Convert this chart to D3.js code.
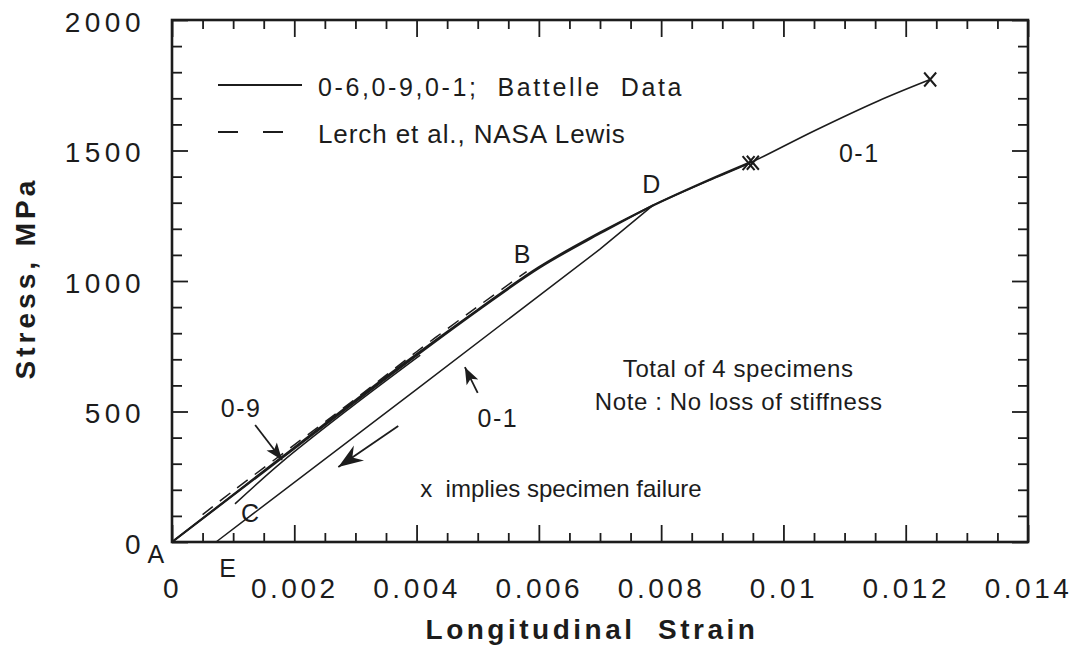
<!DOCTYPE html>
<html>
<head>
<meta charset="utf-8">
<script src="https://cdn.jsdelivr.net/npm/d3@7"></script>
<style>
  html, body { margin: 0; padding: 0; background: #fff; }
  svg { display: block; font-family: "Liberation Sans", Arial, Helvetica, sans-serif; }
</style>
</head>
<body>
<svg id="chart"></svg>
<script>
// axis ticks
const xTickValues = [0, 0.002, 0.004, 0.006, 0.008, 0.01, 0.012, 0.014];
const xTickLabels = ["0", "0.002", "0.004", "0.006", "0.008", "0.01", "0.012", "0.014"];
const yTickValues = [0, 500, 1000, 1500, 2000];
const yTickLabels = ["0", "500", "1000", "1500", "2000"];

// [strain, stress MPa]
const load01 = [[0, 0], [0.0018, 322], [0.00373, 667], [0.00504, 893], [0.00602, 1052],
  [0.0070, 1182], [0.00787, 1291]];
const unload01 = [[0.00787, 1291], [0.0070, 1122], [0.0040, 585], [0.00072, 0]];
const reload01 = [[0.00103, 146], [0.0018, 307], [0.00291, 513], [0.00406, 716]];
const final01 = [[0.00787, 1291], [0.00877, 1384], [0.00945, 1452], [0.0105, 1575],
  [0.01155, 1690], [0.0124, 1772]];
const load0609 = [[0, 0], [0.0018, 326], [0.0037, 668], [0.005, 890], [0.006, 1053],
  [0.007, 1186], [0.0079, 1293], [0.00877, 1386], [0.00945, 1454]];
const nasaLewis = [[0.0005, 105], [0.001, 196], [0.002, 372], [0.003, 548], [0.004, 729],
  [0.005, 902], [0.0058, 1036]];
const failures = [[0.00943, 1452], [0.00950, 1453], [0.0124, 1772]];

// annotation text, placed in data units
const pointLabels = [
  { text: "A", at: [-0.00025, -80] },
  { text: "E", at: [0.00092, -134] },
  { text: "C", at: [0.00129, 77] },
  { text: "B", at: [0.00574, 1069] },
  { text: "D", at: [0.00785, 1337] },
  { text: "0-1", at: [0.01124, 1456] },
  { text: "0-1", at: [0.00533, 441] },
  { text: "0-9", at: [0.00113, 479] }
];
const notes = [
  { text: "Total of 4 specimens", at: [0.00926, 632] },
  { text: "Note : No loss of stiffness", at: [0.00927, 506] }
];
const arrows = [
  { from: [0.00136, 448], to: [0.0018, 314], head: "small" },
  { from: [0.0050, 571], to: [0.00479, 670], head: "small" },
  { from: [0.0037, 444], to: [0.00272, 287], head: "big" }
];

const width = 1081;
const height = 655;
const ink = "#1c1c1c";

const svg = d3.select("#chart").attr("width", width).attr("height", height);

const x = d3.scaleLinear().domain([0, 0.014]).range([172, 1028]);
const y = d3.scaleLinear().domain([0, 2000]).range([542, 20]);

const minorX = d3.range(0, 29).map((i) => i * 0.0005).filter((v) => Math.round(v * 10000) % 20 !== 0);
const minorY = d3.range(0, 21).map((i) => i * 100).filter((v) => v % 500 !== 0);

const defs = svg.append("defs");
defs.append("marker")
  .attr("id", "head-small")
  .attr("markerUnits", "userSpaceOnUse")
  .attr("viewBox", "-18 -8 20 16")
  .attr("markerWidth", 20).attr("markerHeight", 16)
  .attr("refX", 0).attr("refY", 0)
  .attr("orient", "auto")
  .append("path").attr("d", "M0,0L-17,-6.5L-13,0L-17,6.5Z").attr("fill", ink);
defs.append("marker")
  .attr("id", "head-big")
  .attr("markerUnits", "userSpaceOnUse")
  .attr("viewBox", "-26 -10 28 20")
  .attr("markerWidth", 28).attr("markerHeight", 20)
  .attr("refX", 0).attr("refY", 0)
  .attr("orient", "auto")
  .append("path").attr("d", "M0,0L-25,-9L-17,0L-25,9Z").attr("fill", ink);

function styleAxis(g) {
  g.select(".domain").remove();
  g.selectAll(".tick line").attr("stroke", ink).attr("stroke-width", 1.8);
}

// bottom axis with labels
svg.append("g")
  .attr("transform", `translate(0,${y(0)})`)
  .call(d3.axisBottom(x).tickValues(xTickValues).tickFormat((d, i) => xTickLabels[i])
    .tickSize(-17).tickPadding(36))
  .call(styleAxis)
  .call((g) => g.selectAll("text")
    .attr("font-size", 28).attr("letter-spacing", 3.5).attr("fill", ink)
    .attr("font-family", "Liberation Sans, Arial, sans-serif"));
svg.append("g")
  .attr("transform", `translate(0,${y(0)})`)
  .call(d3.axisBottom(x).tickValues(minorX).tickFormat("").tickSize(-9))
  .call(styleAxis);

// top axis
svg.append("g")
  .attr("transform", `translate(0,${y(2000)})`)
  .call(d3.axisTop(x).tickValues(xTickValues).tickFormat("").tickSize(-17))
  .call(styleAxis);
svg.append("g")
  .attr("transform", `translate(0,${y(2000)})`)
  .call(d3.axisTop(x).tickValues(minorX).tickFormat("").tickSize(-9))
  .call(styleAxis);

// left axis with labels
svg.append("g")
  .attr("transform", `translate(${x(0)},0)`)
  .call(d3.axisLeft(y).tickValues(yTickValues).tickFormat((d, i) => yTickLabels[i])
    .tickSize(-16).tickPadding(27))
  .call(styleAxis)
  .call((g) => g.selectAll("text")
    .attr("font-size", 28).attr("letter-spacing", 4.5).attr("fill", ink)
    .attr("dy", "0.4em")
    .attr("font-family", "Liberation Sans, Arial, sans-serif"));
svg.append("g")
  .attr("transform", `translate(${x(0)},0)`)
  .call(d3.axisLeft(y).tickValues(minorY).tickFormat("").tickSize(-10))
  .call(styleAxis);

// right axis
svg.append("g")
  .attr("transform", `translate(${x(0.014)},0)`)
  .call(d3.axisRight(y).tickValues(yTickValues).tickFormat("").tickSize(-16))
  .call(styleAxis);
svg.append("g")
  .attr("transform", `translate(${x(0.014)},0)`)
  .call(d3.axisRight(y).tickValues(minorY).tickFormat("").tickSize(-10))
  .call(styleAxis);

// frame
svg.append("rect")
  .attr("x", x(0)).attr("y", y(2000))
  .attr("width", x(0.014) - x(0)).attr("height", y(0) - y(2000))
  .attr("fill", "none").attr("stroke", ink).attr("stroke-width", 2.6);

// curves
const line = d3.line().x((d) => x(d[0])).y((d) => y(d[1])).curve(d3.curveCatmullRom);
const straight = d3.line().x((d) => x(d[0])).y((d) => y(d[1]));

svg.append("path").datum(load0609).attr("d", line)
  .attr("fill", "none").attr("stroke", ink).attr("stroke-width", 2);
svg.append("path").datum(load01).attr("d", line)
  .attr("fill", "none").attr("stroke", ink).attr("stroke-width", 2);
svg.append("path").datum(final01).attr("d", line)
  .attr("fill", "none").attr("stroke", ink).attr("stroke-width", 1.6);
svg.append("path").datum(unload01).attr("d", straight)
  .attr("fill", "none").attr("stroke", ink).attr("stroke-width", 1.5);
svg.append("path").datum(reload01).attr("d", line)
  .attr("fill", "none").attr("stroke", ink).attr("stroke-width", 1.5);
svg.append("path").datum(nasaLewis).attr("d", line)
  .attr("fill", "none").attr("stroke", ink).attr("stroke-width", 1.5)
  .attr("stroke-dasharray", "13,9");

// failure marks
svg.append("g").selectAll("path").data(failures).join("path")
  .attr("d", (d) => {
    const cx = x(d[0]), cy = y(d[1]);
    return `M${cx - 6},${cy - 7}L${cx + 6},${cy + 7}M${cx + 6},${cy - 7}L${cx - 6},${cy + 7}`;
  })
  .attr("stroke", ink).attr("stroke-width", 2).attr("fill", "none");

// arrows
svg.append("g").selectAll("line").data(arrows).join("line")
  .attr("x1", (d) => x(d.from[0])).attr("y1", (d) => y(d.from[1]))
  .attr("x2", (d) => x(d.to[0])).attr("y2", (d) => y(d.to[1]))
  .attr("stroke", ink).attr("stroke-width", 1.8)
  .attr("marker-end", (d) => `url(#head-${d.head})`);

// point labels
svg.append("g").selectAll("text").data(pointLabels).join("text")
  .attr("x", (d) => x(d.at[0])).attr("y", (d) => y(d.at[1]))
  .attr("text-anchor", "middle").attr("font-size", 25).attr("letter-spacing", 1.5)
  .attr("fill", ink).text((d) => d.text);

// notes
svg.append("g").selectAll("text").data(notes).join("text")
  .attr("x", (d) => x(d.at[0])).attr("y", (d) => y(d.at[1]))
  .attr("text-anchor", "middle").attr("font-size", 24).attr("letter-spacing", 0.6)
  .attr("fill", ink).text((d) => d.text);
svg.append("text")
  .attr("x", x(0.00406)).attr("y", y(172))
  .attr("font-size", 24).attr("fill", ink)
  .style("white-space", "pre")
  .text("x  implies specimen failure");

// legend
const legend = svg.append("g");
legend.append("line").attr("x1", 218).attr("x2", 302).attr("y1", 85).attr("y2", 85)
  .attr("stroke", ink).attr("stroke-width", 1.8);
legend.append("text").attr("x", 318).attr("y", 96)
  .attr("font-size", 25).attr("letter-spacing", 2.6).attr("fill", ink)
  .style("white-space", "pre").text("0-6,0-9,0-1;  Battelle  Data");
legend.append("line").attr("x1", 218).attr("x2", 283).attr("y1", 132).attr("y2", 132)
  .attr("stroke", ink).attr("stroke-width", 1.8).attr("stroke-dasharray", "20,25");
legend.append("text").attr("x", 318).attr("y", 143)
  .attr("font-size", 26).attr("letter-spacing", 0.9).attr("fill", ink)
  .text("Lerch et al., NASA Lewis");

// axis titles
svg.append("text")
  .attr("x", (x(0) + x(0.014)) / 2 - 8).attr("y", 639)
  .attr("text-anchor", "middle").attr("font-size", 28).attr("font-weight", "bold")
  .attr("letter-spacing", 3.5).attr("fill", ink)
  .style("white-space", "pre").text("Longitudinal  Strain");
svg.append("text")
  .attr("transform", `translate(35,${278}) rotate(-90)`)
  .attr("text-anchor", "middle").attr("font-size", 28).attr("font-weight", "bold")
  .attr("letter-spacing", 4).attr("fill", ink)
  .text("Stress,  MPa");
</script>
</body>
</html>
